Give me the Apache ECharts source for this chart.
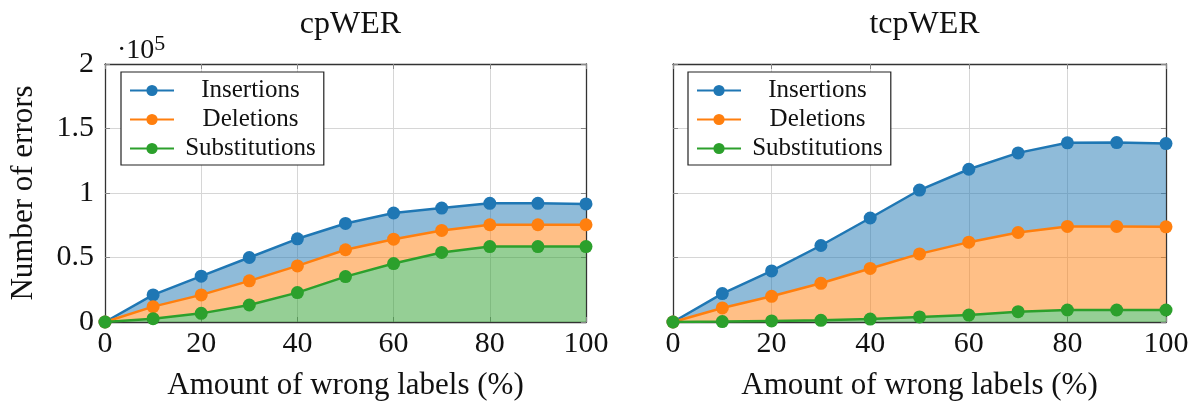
<!DOCTYPE html>
<html>
<head>
<meta charset="utf-8">
<script src="https://cdn.jsdelivr.net/npm/echarts@6/dist/echarts.min.js"></script>
<style>
  html, body { margin: 0; padding: 0; background: #fff; }
  #chart { width: 1192px; height: 410px; }
</style>
</head>
<body>
<div id="chart"></div>
<script>
// Share of wrongly assigned speaker labels (%)
const wrongLabels = [0, 10, 20, 30, 40, 50, 60, 70, 80, 90, 100];

// cpWER error counts per type (stacked: substitutions, deletions, insertions)
const cpSubstitutions = [0, 2600, 6700, 13200, 22800, 35200, 45300, 53900, 58500, 58500, 58500];
const cpDeletions     = [0, 9300, 14300, 18700, 20700, 20800, 18900, 17100, 16900, 16900, 16900];
const cpInsertions    = [0, 9100, 14500, 18100, 21000, 20400, 20300, 17300, 16600, 16600, 16100];

// tcpWER error counts per type
const tcpSubstitutions = [0, 300, 800, 1300, 2300, 3900, 5400, 8000, 9300, 9300, 9300];
const tcpDeletions     = [0, 10600, 19100, 28700, 39200, 48900, 56500, 61400, 64800, 64800, 64500];
const tcpInsertions    = [0, 11100, 19700, 29300, 39100, 49500, 56500, 61700, 64800, 65000, 64500];

// Axis ticks
const yTicks = [0, 0.5, 1, 1.5, 2];
const yScale = 1e5;

const panelTitles = ['cpWER', 'tcpWER'];
const errorNames = ['Insertions', 'Deletions', 'Substitutions'];

const colors = { Insertions: '#1f77b4', Deletions: '#ff7f0e', Substitutions: '#2ca02c' };
const FONT = 'Liberation Serif';

const grids = [
  { left: 105, right: 606, top: 64, bottom: 88 },
  { left: 673, right: 26, top: 64, bottom: 88 }
];

const chart = echarts.init(document.getElementById('chart'), null, { renderer: 'canvas' });

const xAxes = [], yAxes = [], series = [], legends = [], titles = [];

const panels = [
  { Substitutions: cpSubstitutions, Deletions: cpDeletions, Insertions: cpInsertions },
  { Substitutions: tcpSubstitutions, Deletions: tcpDeletions, Insertions: tcpInsertions }
];

const categories = wrongLabels.map(String);
const frameLine = { show: true, onZero: false, lineStyle: { color: '#333', width: 1.3 } };
const gridLine = { show: true, lineStyle: { color: '#d6d6d6', width: 1 } };

panels.forEach((panel, g) => {
  const tickStyle = { show: true, inside: true, length: 5, lineStyle: { color: '#888', width: 1 } };
  const catTick = Object.assign({ interval: 1, alignWithLabel: true }, tickStyle);
  // bottom x axis: every other category is labelled (0, 20, ..., 100)
  xAxes.push({
    gridIndex: g, type: 'category', data: categories, boundaryGap: false,
    position: 'bottom',
    axisLine: frameLine,
    axisTick: catTick,
    axisLabel: { interval: 1, fontFamily: FONT, fontSize: 30, color: '#111', margin: 7 },
    splitLine: Object.assign({ interval: 1 }, gridLine),
    name: 'Amount of wrong labels (%)', nameLocation: 'middle', nameGap: 48,
    nameTextStyle: { fontFamily: FONT, fontSize: 31, color: '#111' }
  });
  // top x axis (frame + ticks)
  xAxes.push({
    gridIndex: g, type: 'category', data: categories, boundaryGap: false, position: 'top',
    axisLine: frameLine, axisTick: catTick,
    axisLabel: { show: false }, splitLine: { show: false }
  });
  // left y axis
  yAxes.push({
    gridIndex: g, type: 'value', min: 0, max: yTicks[yTicks.length - 1] * yScale, interval: 0.5 * yScale,
    position: 'left',
    axisLine: frameLine,
    axisTick: tickStyle,
    axisLabel: {
      show: g === 0, fontFamily: FONT, fontSize: 30, color: '#111', margin: 11,
      formatter: v => String(v / yScale)
    },
    splitLine: gridLine,
    name: g === 0 ? 'Number of errors' : '', nameLocation: 'middle', nameGap: 66,
    nameTextStyle: { fontFamily: FONT, fontSize: 31, color: '#111' }
  });
  // right y axis (frame + ticks)
  yAxes.push({
    gridIndex: g, type: 'value', min: 0, max: 2e5, interval: 0.5e5, position: 'right',
    axisLine: frameLine,
    axisTick: tickStyle, axisLabel: { show: false }, splitLine: { show: false }
  });

  // stacked bottom-to-top: substitutions, deletions, insertions
  const order = ['Substitutions', 'Deletions', 'Insertions'];
  const zOf = { Insertions: 2, Deletions: 3, Substitutions: 4 };
  order.forEach(name => {
    series.push({
      name, type: 'line', xAxisIndex: g * 2, yAxisIndex: g * 2,
      stack: 'errors' + g,
      data: panel[name],
      z: zOf[name],
      symbol: 'circle', symbolSize: 13, showSymbol: true,
      lineStyle: { color: colors[name], width: 2.5 },
      itemStyle: { color: colors[name] },
      areaStyle: { color: colors[name], opacity: 0.5 },
      emphasis: { disabled: true },
      animation: false
    });
  });

  legends.push({
    orient: 'vertical',
    left: g === 0 ? 121 : 688, top: 72,
    data: errorNames,
    itemWidth: 44, itemHeight: 14, itemGap: 4,
    padding: [6, 8, 4, 8],
    borderColor: '#222', borderWidth: 1.2, backgroundColor: '#fff',
    selectedMode: false,
    formatter: n => '{t|' + n + '}',
    textStyle: {
      fontFamily: FONT, fontSize: 25, color: '#111',
      rich: { t: { fontFamily: FONT, fontSize: 25, width: 143, align: 'center', color: '#111' } }
    }
  });

  titles.push({
    text: panelTitles[g],
    left: (g === 0 ? (105 + 586) / 2 : (673 + 1166) / 2), top: 4, textAlign: 'center',
    textStyle: { fontFamily: FONT, fontSize: 32, fontWeight: 'normal', color: '#111' }
  });
});

// axis multiplier above the left panel
titles.push({
  text: '·10{s|5}', left: 112, top: 28,
  textStyle: {
    fontFamily: FONT, fontSize: 28, fontWeight: 'normal', color: '#111',
    rich: { s: { fontFamily: FONT, fontSize: 22, verticalAlign: 'top', padding: [0, 0, 14, 0], color: '#111' } }
  }
});

chart.setOption({
  animation: false,
  backgroundColor: '#fff',
  title: titles,
  grid: grids,
  xAxis: xAxes,
  yAxis: yAxes,
  legend: legends,
  series
});
</script>
</body>
</html>
